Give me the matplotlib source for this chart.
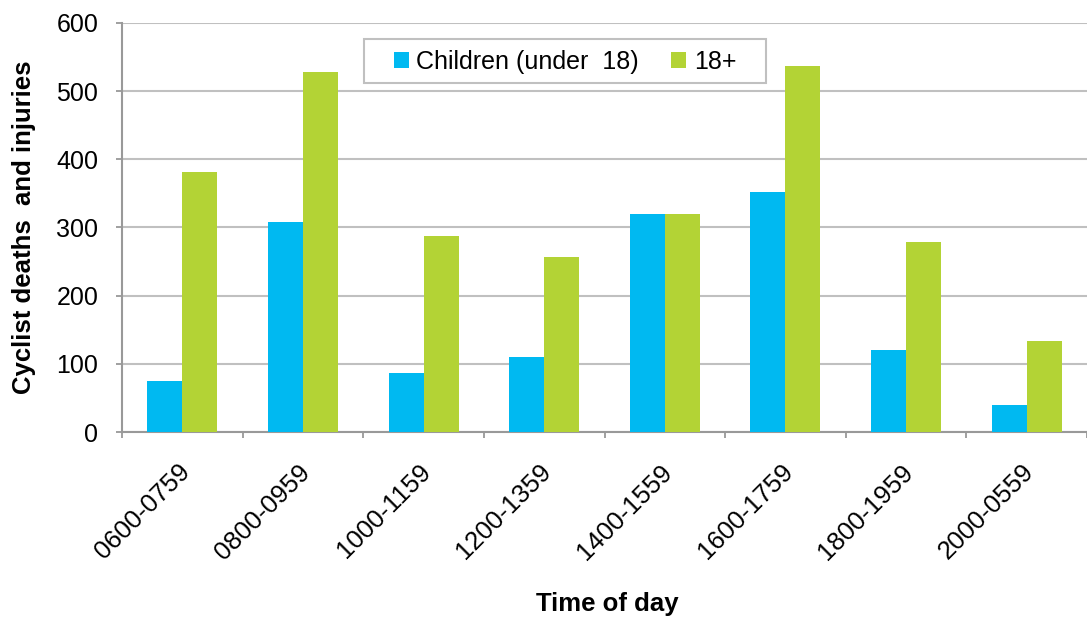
import numpy as np
import matplotlib.pyplot as plt
import matplotlib.transforms as mtransforms
from matplotlib.patches import Rectangle

times = ['0600-0759', '0800-0959', '1000-1159', '1200-1359',
         '1400-1559', '1600-1759', '1800-1959', '2000-0559']
children = [75, 308, 86, 110, 320, 352, 121, 39]
adults = [381, 528, 288, 256, 320, 537, 279, 133]

plt.rcParams['font.family'] = ['Liberation Sans', 'DejaVu Sans']

fig = plt.figure(figsize=(10.87, 6.17), dpi=100)
ax = fig.add_axes([122/1087, 185/617, 965/1087, 409/617])

x = np.arange(len(times)) + 0.5
w = 0.29
ax.bar(x - w/2, children, w, color='#00B9F1', label='Children (under  18)', zorder=3)
ax.bar(x + w/2, adults, w, color='#B3D335', label='18+', zorder=3)

ax.set_xlim(0, 8)
ax.set_ylim(0, 600)
ax.set_yticks(range(0, 601, 100))
ax.grid(axis='y', color='#c0c0c0', lw=1.5, zorder=0)

ax.set_xticks(x)
ax.set_xticklabels(times, rotation=45, ha='right', rotation_mode='anchor', fontsize=18.5)
ax.set_xticks(np.arange(9), minor=True)
ax.tick_params(axis='x', which='major', length=0, pad=20)
ax.tick_params(axis='x', which='minor', length=4, width=1.3, color='#999999')
ax.tick_params(axis='y', length=4, width=1.3, color='#999999', labelsize=18, pad=13)

shift = mtransforms.ScaledTranslation(-5/100, 0, fig.dpi_scale_trans)
for lab in ax.get_xticklabels():
    lab.set_transform(lab.get_transform() + shift)

for s in ['top', 'right']:
    ax.spines[s].set_visible(False)
for s in ['left', 'bottom']:
    ax.spines[s].set_color('#999999')
    ax.spines[s].set_linewidth(1.5)

ax.set_ylabel('Cyclist deaths  and injuries', fontsize=18.5, fontweight='bold')
ax.yaxis.set_label_coords(-86/965, 0.5)
fig.text(607/1087, 1 - 604/617, 'Time of day', ha='center', va='center',
         fontsize=18.5, fontweight='bold')

# legend frame drawn separately so its padding matches the original
ax.add_patch(Rectangle((364/1087, 1 - 83/617), 402/1087, 44/617,
                       transform=fig.transFigure, facecolor='white',
                       edgecolor='#c0c0c0', lw=1.5, zorder=5, clip_on=False))
leg = ax.legend(loc='center', bbox_to_anchor=(565/1087, 1 - 62/617),
                bbox_transform=fig.transFigure, ncol=2, fontsize=18,
                frameon=False, handlelength=0.6, handleheight=0.6,
                handletextpad=0.3, columnspacing=1.3, borderpad=0.3)
leg.set_zorder(6)

fig.savefig('out.png', dpi=100)
